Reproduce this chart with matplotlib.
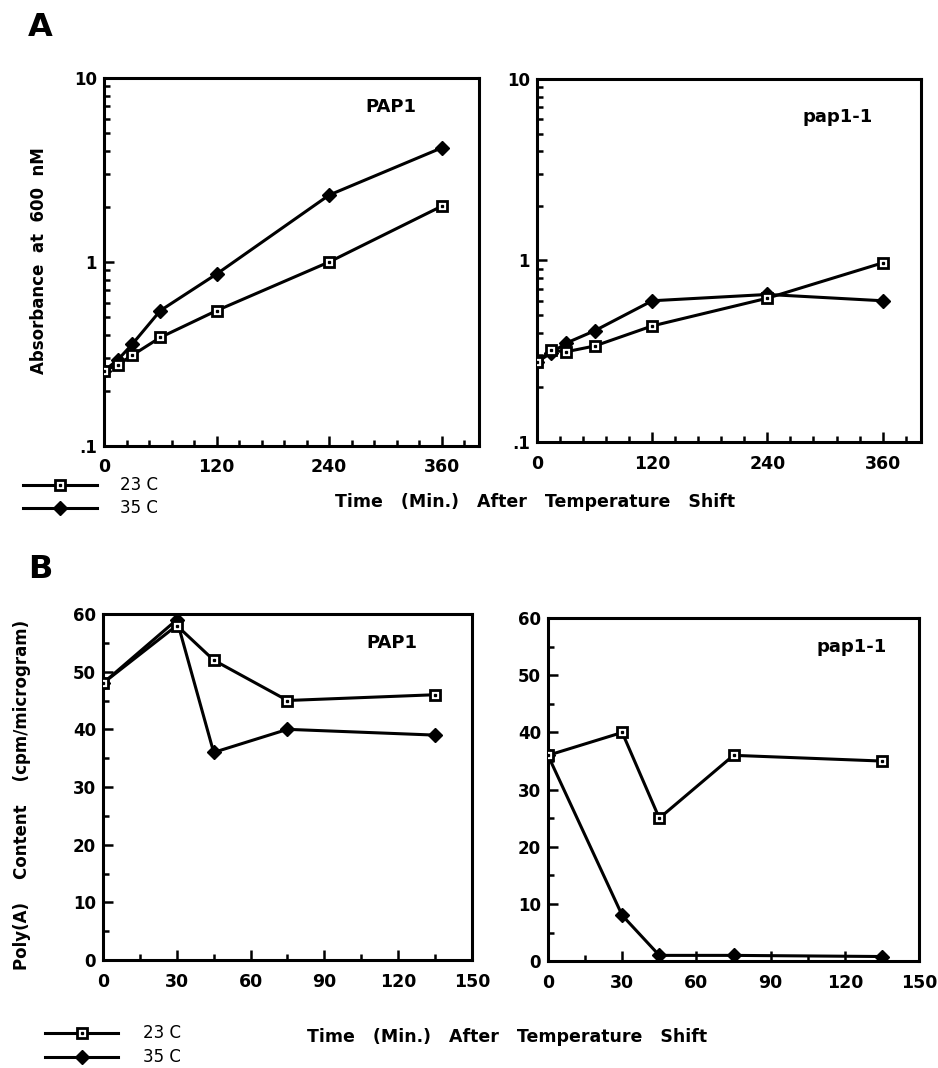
import matplotlib
matplotlib.use("Agg")
import matplotlib.pyplot as plt
from matplotlib.lines import Line2D
from matplotlib.ticker import MultipleLocator, FixedLocator, NullFormatter

plt.rcParams['font.family'] = ['DejaVu Sans']
plt.rcParams['font.weight'] = 'bold'

# panel A: growth curves (absorbance, log scale)
time_a = [0, 15, 30, 60, 120, 240, 360]
pap1_23_a = [0.256, 0.277, 0.311, 0.389, 0.544, 1.0, 2.01]
pap1_35_a = [0.256, 0.295, 0.357, 0.544, 0.86, 2.31, 4.17]
mut_23_a = [0.276, 0.32, 0.314, 0.338, 0.436, 0.62, 0.97]
mut_35_a = [0.276, 0.31, 0.35, 0.41, 0.60, 0.65, 0.60]

# panel B: poly(A) content
time_b = [0, 30, 45, 75, 135]
pap1_23_b = [48, 58, 52, 45, 46]
pap1_35_b = [48, 59, 36, 40, 39]
mut_23_b = [36, 40, 25, 36, 35]
mut_35_b = [36, 8, 1, 1, 0.8]

labels = ['23 C', '35 C']
xlabel = 'Time   (Min.)   After   Temperature   Shift'

W, H = 938, 1068
LW = 2.2
sq = dict(marker='s', ms=6.5, mfc='white', mec='black', mew=2.0, color='black', lw=LW)
dm = dict(marker='D', ms=6.8, mfc='black', mec='black', color='black', lw=LW)
dot = dict(marker='s', ms=1.4, color='black', ls='none')


def style_axes(ax):
    for s in ax.spines.values():
        s.set_linewidth(2.2)
    ax.tick_params(which='both', direction='in', width=1.8, top=False, right=False)
    ax.tick_params(which='major', length=7, labelsize=12.5, pad=9)
    ax.tick_params(which='minor', length=4.5)
    ax.tick_params(axis='y', which='major', labelsize=12, pad=5)


def draw(ax, t, y23, y35):
    ax.plot(t, y35, **dm, zorder=2)
    ax.plot(t, y23, **sq, zorder=3)
    ax.plot(t, y23, **dot, zorder=4)


fig = plt.figure(figsize=(W / 100, H / 100), dpi=100)

axes_a = [fig.add_axes([0.1109, 0.5824, 0.400, 0.3446]),
          fig.add_axes([0.5725, 0.5861, 0.4094, 0.340])]
data_a = [(pap1_23_a, pap1_35_a, 'PAP1', 0.765, 0.92), (mut_23_a, mut_35_a, 'pap1-1', 0.784, 0.895)]
for ax, (y23, y35, name, tx, ty) in zip(axes_a, data_a):
    draw(ax, time_a, y23, y35)
    ax.set_yscale('log')
    ax.set_ylim(0.1, 10)
    ax.set_xlim(0, 400)
    ax.set_yticks([0.1, 1, 10])
    ax.set_yticklabels(['.1', '1', '10'])
    ax.yaxis.set_minor_locator(FixedLocator([k * 0.1 for k in range(2, 10)] + list(range(2, 10))))
    ax.yaxis.set_minor_formatter(NullFormatter())
    ax.set_xticks([0, 120, 240, 360])
    ax.xaxis.set_minor_locator(MultipleLocator(24))
    style_axes(ax)
    ax.text(tx, ty, name, transform=ax.transAxes, ha='center', va='center',
            fontsize=13, fontweight='bold')
axes_a[0].set_ylabel('Absorbance  at  600  nM', fontsize=12, fontweight='bold')
axes_a[0].yaxis.set_label_coords(-0.148, 0.505)

axes_b = [fig.add_axes([0.1098, 0.1011, 0.3934, 0.324]),
          fig.add_axes([0.5842, 0.1001, 0.3956, 0.3211])]
data_b = [(pap1_23_b, pap1_35_b, 'PAP1', 0.783, 0.916), (mut_23_b, mut_35_b, 'pap1-1', 0.819, 0.915)]
for ax, (y23, y35, name, tx, ty) in zip(axes_b, data_b):
    draw(ax, time_b, y23, y35)
    ax.set_ylim(0, 60)
    ax.set_xlim(0, 150)
    ax.set_yticks(range(0, 61, 10))
    ax.yaxis.set_minor_locator(MultipleLocator(5))
    ax.set_xticks(range(0, 151, 30))
    ax.xaxis.set_minor_locator(MultipleLocator(15))
    style_axes(ax)
    ax.text(tx, ty, name, transform=ax.transAxes, ha='center', va='center',
            fontsize=13, fontweight='bold')
axes_b[0].set_ylabel('Poly(A)    Content    (cpm/microgram)', fontsize=12, fontweight='bold')
axes_b[0].yaxis.set_label_coords(-0.195, 0.477)

# panel letters and shared x labels
fig.text(40 / W, 1 - 27 / H, 'A', fontsize=23, fontweight='bold', ha='center', va='center')
fig.text(40 / W, 1 - 570 / H, 'B', fontsize=23, fontweight='bold', ha='center', va='center')
fig.text(535 / W, 1 - 502 / H, xlabel, fontsize=12.5, fontweight='bold', ha='center', va='center')
fig.text(507 / W, 1 - 1037 / H, xlabel, fontsize=12.5, fontweight='bold', ha='center', va='center')


def legend_entry(x0, x1, y, tx, style, text):
    yf = 1 - y / H
    fig.add_artist(Line2D([x0 / W, (x0 + x1) / 2 / W, x1 / W], [yf, yf, yf],
                          transform=fig.transFigure, markevery=[1], **style))
    if style is sq:
        fig.add_artist(Line2D([(x0 + x1) / 2 / W], [yf], transform=fig.transFigure, **dot))
    fig.text(tx / W, yf, text, fontsize=12, fontweight='normal', ha='left', va='center')


legend_entry(23, 97, 485, 120, sq, labels[0])
legend_entry(23, 97, 508, 120, dm, labels[1])
legend_entry(45, 118, 1033, 143, sq, labels[0])
legend_entry(45, 118, 1057, 143, dm, labels[1])

fig.savefig('out.png', dpi=100)
